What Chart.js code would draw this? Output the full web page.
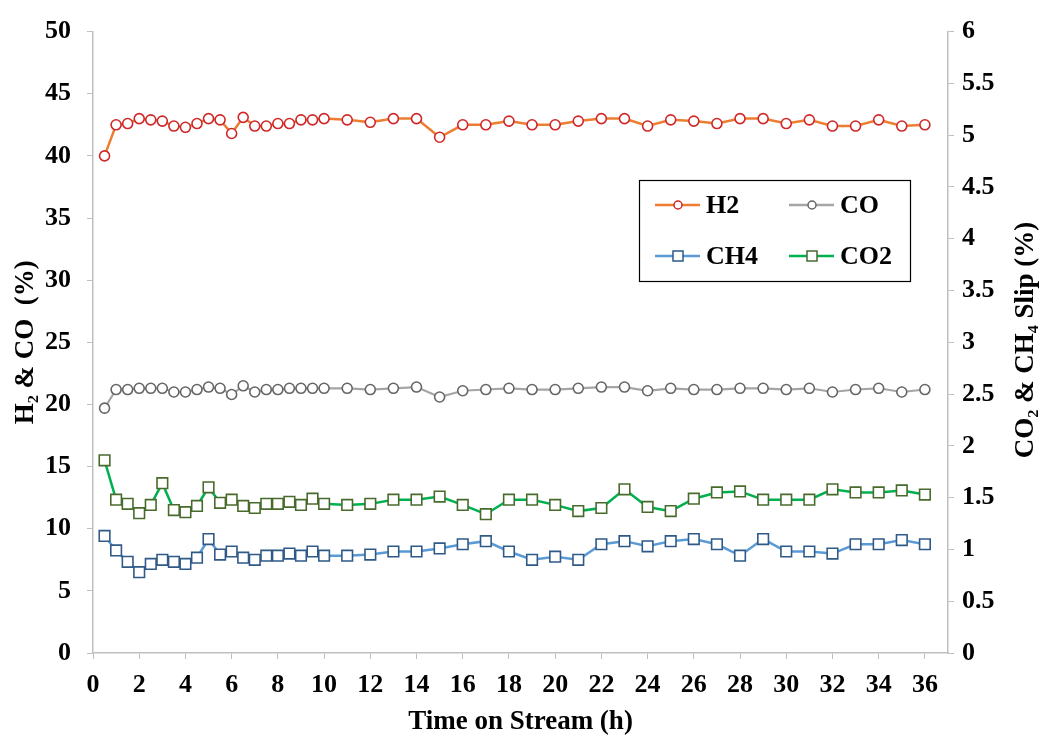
<!DOCTYPE html>
<html>
<head>
<meta charset="utf-8">
<script src="https://cdn.jsdelivr.net/npm/chart.js@4"></script>
<style>
  body { margin: 0; background: #fff; }
  canvas { display: block; }
</style>
</head>
<body>
<canvas id="stream_chart" width="1043" height="738"></canvas>
<script>
// time on stream (h)
const hours = [0.5, 1, 1.5, 2, 2.5, 3, 3.5, 4, 4.5, 5, 5.5, 6, 6.5, 7, 7.5, 8, 8.5, 9, 9.5, 10,
    11, 12, 13, 14, 15, 16, 17, 18, 19, 20, 21, 22, 23, 24, 25, 26, 27, 28, 29, 30, 31, 32, 33, 34, 35, 36];

// left axis (%)
const h2 = [40.0, 42.5, 42.6, 43.0, 42.9, 42.8, 42.4, 42.3, 42.6, 43.0, 42.9, 41.8, 43.1, 42.4, 42.4, 42.6, 42.6, 42.9, 42.9, 43.0,
    42.9, 42.7, 43.0, 43.0, 41.5, 42.5, 42.5, 42.8, 42.5, 42.5, 42.8, 43.0, 43.0, 42.4, 42.9, 42.8, 42.6, 43.0, 43.0, 42.6, 42.9, 42.4, 42.4, 42.9, 42.4, 42.5];
const co = [19.7, 21.2, 21.2, 21.3, 21.3, 21.3, 21.0, 21.0, 21.2, 21.4, 21.3, 20.8, 21.5, 21.0, 21.2, 21.2, 21.3, 21.3, 21.3, 21.3,
    21.3, 21.2, 21.3, 21.4, 20.6, 21.1, 21.2, 21.3, 21.2, 21.2, 21.3, 21.4, 21.4, 21.1, 21.3, 21.2, 21.2, 21.3, 21.3, 21.2, 21.3, 21.0, 21.2, 21.3, 21.0, 21.2];

// right axis (slip %)
const ch4 = [1.13, 0.99, 0.88, 0.78, 0.86, 0.90, 0.88, 0.86, 0.92, 1.10, 0.95, 0.98, 0.92, 0.90, 0.94, 0.94, 0.96, 0.94, 0.98, 0.94,
    0.94, 0.95, 0.98, 0.98, 1.01, 1.05, 1.08, 0.98, 0.90, 0.93, 0.90, 1.05, 1.08, 1.03, 1.08, 1.10, 1.05, 0.94, 1.10, 0.98, 0.98, 0.96, 1.05, 1.05, 1.09, 1.05];
const co2 = [1.86, 1.48, 1.44, 1.35, 1.43, 1.64, 1.38, 1.36, 1.42, 1.60, 1.45, 1.48, 1.42, 1.40, 1.44, 1.44, 1.46, 1.43, 1.49, 1.44,
    1.43, 1.44, 1.48, 1.48, 1.51, 1.43, 1.34, 1.48, 1.48, 1.43, 1.37, 1.40, 1.58, 1.41, 1.37, 1.49, 1.55, 1.56, 1.48, 1.48, 1.48, 1.58, 1.55, 1.55, 1.57, 1.53];

// tick labels
const xTickValues = [0, 2, 4, 6, 8, 10, 12, 14, 16, 18, 20, 22, 24, 26, 28, 30, 32, 34, 36];
const leftTicks = { min: 0, max: 50, step: 5 };
const rightTicks = { min: 0, max: 6, step: 0.5 };
const xMax = 37;

const serif = "'Liberation Serif', 'Times New Roman', serif";
const axisGray = '#bfbfbf';
const tickFont = { family: serif, size: 26, weight: 'bold' };
const titleFont = { family: serif, size: 27, weight: 'bold' };

function pts(values) {
    return values.map((v, i) => ({ x: hours[i], y: v }));
}

// legend box + right axis title drawn by hand
const extras = {
    id: 'extras',
    afterDraw(chart) {
        const ctx = chart.ctx;
        ctx.save();

        // right title reads bottom-to-top
        ctx.translate(1026, 340);
        ctx.rotate(-Math.PI / 2);
        ctx.fillStyle = '#000';
        ctx.font = 'bold 27px ' + serif;
        ctx.textAlign = 'center';
        ctx.textBaseline = 'middle';
        ctx.fillText('CO\u2082 & CH\u2084 Slip (%)', 0, 0);
        ctx.restore();

        ctx.save();
        ctx.strokeStyle = '#000';
        ctx.lineWidth = 1.2;
        ctx.strokeRect(639.5, 180.5, 271, 101);

        const items = [
            { label: 'H2', line: '#ed7d31', mark: '#d02828', shape: 'circle', x: 655, y: 205 },
            { label: 'CO', line: '#a5a5a5', mark: '#666666', shape: 'circle', x: 789, y: 205 },
            { label: 'CH4', line: '#5b9bd5', mark: '#2f5a88', shape: 'rect', x: 655, y: 256 },
            { label: 'CO2', line: '#00b050', mark: '#486b2c', shape: 'rect', x: 789, y: 256 }
        ];
        items.forEach(it => {
            ctx.strokeStyle = it.line;
            ctx.lineWidth = 2.5;
            ctx.beginPath();
            ctx.moveTo(it.x, it.y);
            ctx.lineTo(it.x + 45, it.y);
            ctx.stroke();
            ctx.fillStyle = '#fff';
            ctx.strokeStyle = it.mark;
            ctx.lineWidth = 1.5;
            ctx.beginPath();
            if (it.shape === 'circle') {
                ctx.arc(it.x + 23, it.y, 4, 0, Math.PI * 2);
            } else {
                ctx.rect(it.x + 18, it.y - 5, 10, 10);
            }
            ctx.fill();
            ctx.stroke();
            ctx.fillStyle = '#000';
            ctx.font = 'bold 26px ' + serif;
            ctx.textAlign = 'left';
            ctx.textBaseline = 'middle';
            ctx.fillText(it.label, it.x + 51, it.y + 1);
        });
        ctx.restore();
    }
};

const canvas = document.querySelector('#stream_chart');

new Chart(canvas, {
    type: 'line',
    data: {
        datasets: [
            {
                label: 'H2', data: pts(h2), yAxisID: 'y',
                borderColor: '#ed7d31', borderWidth: 2.5,
                pointStyle: 'circle', pointRadius: 5, pointBorderWidth: 1.6,
                pointBorderColor: '#d02828', pointBackgroundColor: '#fff'
            },
            {
                label: 'CO', data: pts(co), yAxisID: 'y',
                borderColor: '#a5a5a5', borderWidth: 2.2,
                pointStyle: 'circle', pointRadius: 5, pointBorderWidth: 1.6,
                pointBorderColor: '#666666', pointBackgroundColor: '#fff'
            },
            {
                label: 'CH4', data: pts(ch4), yAxisID: 'y2',
                borderColor: '#5b9bd5', borderWidth: 2.5,
                pointStyle: 'rect', pointRadius: 7.5, pointBorderWidth: 1.6,
                pointBorderColor: '#2f5a88', pointBackgroundColor: '#fff'
            },
            {
                label: 'CO2', data: pts(co2), yAxisID: 'y2',
                borderColor: '#00b050', borderWidth: 2.5,
                pointStyle: 'rect', pointRadius: 7.5, pointBorderWidth: 1.6,
                pointBorderColor: '#486b2c', pointBackgroundColor: '#fff'
            }
        ]
    },
    options: {
        responsive: false,
        animation: false,
        layout: { padding: { top: 24, left: 0, right: 0, bottom: 0 } },
        elements: { line: { tension: 0 } },
        plugins: {
            legend: { display: false },
            tooltip: { enabled: false }
        },
        scales: {
            x: {
                type: 'linear',
                min: 0, max: xMax,
                afterBuildTicks: s => { s.ticks = xTickValues.map(v => ({ value: v })); },
                afterFit: s => { s.height = 85; },
                grid: { drawOnChartArea: false, color: axisGray, tickLength: 6 },
                border: { color: axisGray, width: 1.5 },
                ticks: {
                    color: '#000', padding: 11,
                    maxRotation: 0, autoSkip: false,
                    font: tickFont
                },
                title: {
                    display: true, text: 'Time on Stream (h)', color: '#000',
                    padding: { top: 0, bottom: 0 },
                    font: titleFont
                }
            },
            y: {
                position: 'left',
                min: leftTicks.min, max: leftTicks.max,
                afterFit: s => { s.width = 93; },
                grid: { drawOnChartArea: false, color: axisGray, tickLength: 6 },
                border: { color: axisGray, width: 1.5 },
                ticks: {
                    stepSize: leftTicks.step, color: '#000', padding: 16,
                    font: tickFont
                },
                title: {
                    display: true, text: 'H\u2082 & CO  (%)', color: '#000',
                    padding: { top: 10, bottom: 0 },
                    font: titleFont
                }
            },
            y2: {
                position: 'right',
                min: rightTicks.min, max: rightTicks.max,
                afterFit: s => { s.width = 95; },
                grid: { drawOnChartArea: false, color: axisGray, tickLength: 6 },
                border: { color: axisGray, width: 1.5 },
                ticks: {
                    stepSize: rightTicks.step, color: '#000', padding: 8,
                    font: tickFont,
                    callback: v => String(v)
                }
            }
        }
    },
    plugins: [extras]
});
</script>
</body>
</html>
